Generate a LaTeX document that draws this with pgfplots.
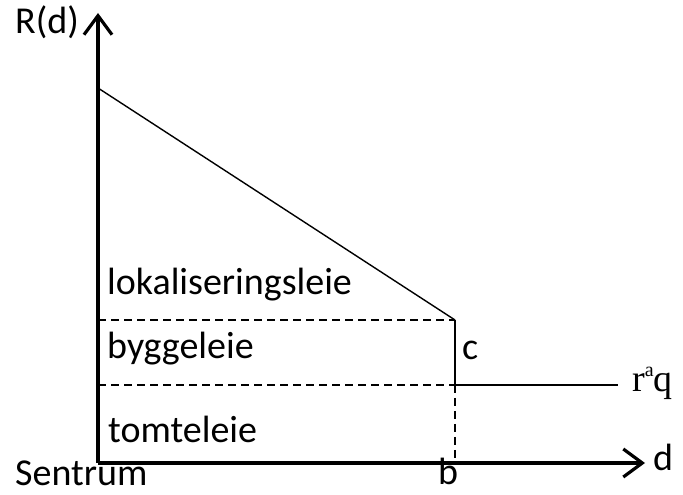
\documentclass[border=0pt]{standalone}
\usepackage{fontspec}
\setmainfont{Carlito}
\newfontfamily\serifmath{Liberation Serif}
\usepackage{pgfplots}
\pgfplotsset{compat=1.18}
\usetikzlibrary{arrows.meta}
\tikzset{lab/.style={font=\fontsize{38bp}{42bp}\selectfont, inner sep=0pt}}
\begin{document}
\begin{tikzpicture}
\begin{axis}[
  name=ax,
  scale only axis, width=683bp, height=495bp,
  xmin=-98, xmax=585, ymin=-32, ymax=463,
  hide axis, clip=false,
]
% axes
\addplot[line width=3.5bp, -{Straight Barb[length=19bp,width=28bp,line width=3.2bp]}] coordinates {(0,0) (0,450)};
\addplot[line width=3.5bp, -{Straight Barb[length=19bp,width=28bp,line width=3.2bp]}] coordinates {(0,0) (547,0)};
% bid-rent line
\addplot[line width=1.4bp] coordinates {(0,375) (357,143)};
% building rent level
\addplot[line width=1.6bp, dash pattern=on 8bp off 5bp] coordinates {(0,143) (357,143)};
% agricultural rent level
\addplot[line width=1.6bp, dash pattern=on 8bp off 5bp] coordinates {(0,78) (357,78)};
\addplot[line width=2bp] coordinates {(357,78) (520,78)};
% boundary b
\addplot[line width=2bp] coordinates {(357,143) (357,78)};
\addplot[line width=1.6bp, dash pattern=on 8bp off 5bp] coordinates {(357,78) (357,0)};
% labels
\node[lab, anchor=base west] at (axis cs:-83,429) {R(d)};
\node[lab, anchor=base west] at (axis cs:9,168) {lokaliseringsleie};
\node[lab, anchor=base west] at (axis cs:9,104) {byggeleie};
\node[lab, anchor=base west] at (axis cs:10,20) {tomteleie};
\node[lab, anchor=base west] at (axis cs:-83,-22) {Sentrum};
\node[lab, anchor=base] at (axis cs:350,-21) {b};
\node[lab, anchor=base west] at (axis cs:364,103) {c};
\node[lab, anchor=base west] at (axis cs:555,-7) {d};
\node[lab, anchor=base west] at (axis cs:534,71) {\serifmath r\raisebox{0.42em}{\fontsize{20bp}{22bp}\selectfont a}q};
\end{axis}
\pgfresetboundingbox
\path (ax.south west) rectangle (ax.north east);
\end{tikzpicture}
\end{document}
